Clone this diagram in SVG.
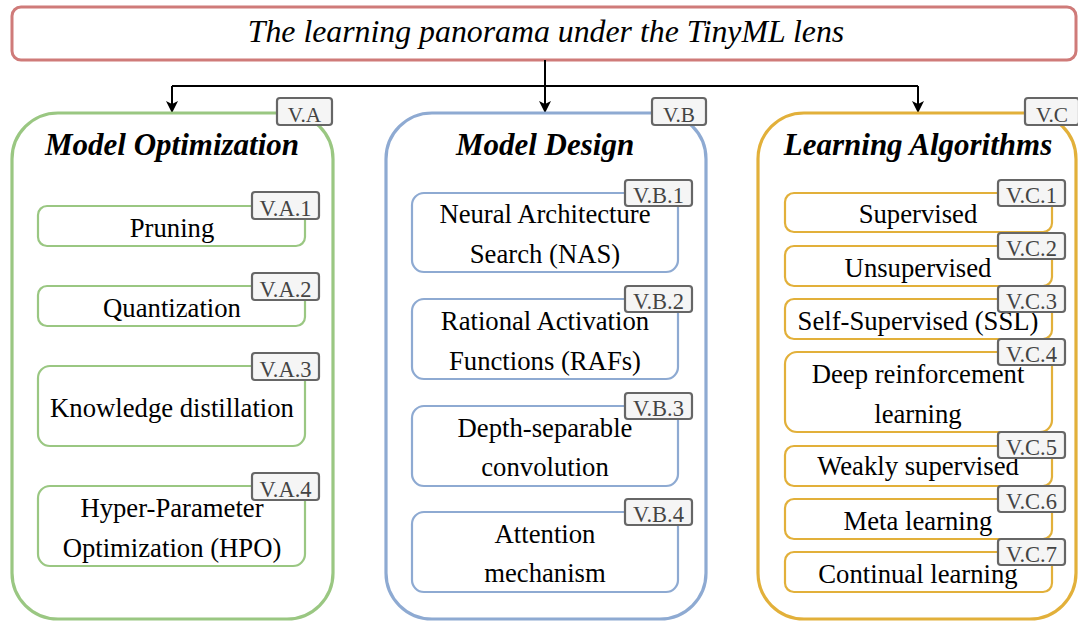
<svg xmlns="http://www.w3.org/2000/svg" width="1078" height="621" viewBox="0 0 1078 621">
  <defs>
    <marker id="arrow" viewBox="0 0 12 12" refX="11" refY="6" markerWidth="12" markerHeight="12" markerUnits="userSpaceOnUse" orient="auto">
      <path d="M0,0 L12,6 L0,12 L3,6 Z" fill="#000"/>
    </marker>
  </defs>
  <style>
    text { font-family: 'Liberation Serif', Tinos, 'Times New Roman', Times, 'DejaVu Serif', serif; fill: #000; text-anchor: middle; }
    .title { font-size: 31.8px; font-style: italic; }
    .gtitle { font-size: 31px; font-style: italic; font-weight: bold; }
    .item { font-size: 26.7px; }
    .tag rect { fill: #f5f5f5; stroke: #666; stroke-width: 2.2; }
    .tag text { font-size: 22.5px; fill: #444; }
    .tag.top text { font-size: 21.3px; }
    .green { fill: #fff; stroke: #9ac782; }
    .blue { fill: #fff; stroke: #8eaad2; }
    .gold { fill: #fff; stroke: #e2b03a; }
    .group { stroke-width: 3.2; }
    .sub { stroke-width: 2.2; }
    .conn { fill: none; stroke: #000; stroke-width: 2; }
  </style>

  <!-- header -->
  <g id="header">
    <rect x="12" y="7" width="1064" height="53" rx="9" fill="#fff" stroke="#cf7b79" stroke-width="3"/>
    <text class="title" x="546" y="42">The learning panorama under the TinyML lens</text>
  </g>

  <!-- connectors from header to the three columns -->
  <g id="connectors">
    <path class="conn" d="M545,60 V112"/>
    <path class="conn" d="M172,86 H918"/>
    <path class="conn" d="M172,86 V112" marker-end="url(#arrow)"/>
    <path class="conn" d="M545,86 V112" marker-end="url(#arrow)"/>
    <path class="conn" d="M918,86 V112" marker-end="url(#arrow)"/>
  </g>

  <!-- column A: model optimization -->
  <g id="model-optimization">
    <rect class="green group" x="12" y="113" width="321" height="506" rx="46"/>
    <text class="gtitle" x="172" y="155">Model Optimization</text>
    <g class="tag top"><rect x="277" y="98" width="55" height="27" rx="3"/><text x="304.5" y="122">V.A</text></g>
  </g>
  <g id="pruning">
    <rect class="green sub" x="38" y="206" width="267" height="40" rx="9"/>
    <text class="item" x="172" y="237">Pruning</text>
    <g class="tag"><rect x="252" y="192" width="67" height="27" rx="3"/><text x="285.5" y="216">V.A.1</text></g>
  </g>
  <g id="quantization">
    <rect class="green sub" x="38" y="286" width="267" height="40" rx="9"/>
    <text class="item" x="172" y="317">Quantization</text>
    <g class="tag"><rect x="252" y="273" width="67" height="27" rx="3"/><text x="285.5" y="297">V.A.2</text></g>
  </g>
  <g id="knowledge-distillation">
    <rect class="green sub" x="38" y="366" width="267" height="80" rx="12"/>
    <text class="item" x="172" y="417">Knowledge distillation</text>
    <g class="tag"><rect x="252" y="353" width="67" height="27" rx="3"/><text x="285.5" y="377">V.A.3</text></g>
  </g>
  <g id="hpo">
    <rect class="green sub" x="38" y="486" width="267" height="80" rx="12"/>
    <text class="item" x="172" y="517">Hyper-Parameter</text>
    <text class="item" x="172" y="557">Optimization (HPO)</text>
    <g class="tag"><rect x="252" y="473" width="67" height="27" rx="3"/><text x="285.5" y="497">V.A.4</text></g>
  </g>

  <!-- column B: model design -->
  <g id="model-design">
    <rect class="blue group" x="386" y="113" width="320" height="506" rx="46"/>
    <text class="gtitle" x="545" y="155">Model Design</text>
    <g class="tag top"><rect x="652" y="98" width="54" height="27" rx="3"/><text x="679" y="122">V.B</text></g>
  </g>
  <g id="nas">
    <rect class="blue sub" x="412" y="193" width="266" height="79" rx="12"/>
    <text class="item" x="545" y="223">Neural Architecture</text>
    <text class="item" x="545" y="263">Search (NAS)</text>
    <g class="tag"><rect x="625" y="180" width="67" height="26" rx="3"/><text x="658.5" y="203">V.B.1</text></g>
  </g>
  <g id="rafs">
    <rect class="blue sub" x="412" y="299" width="266" height="80" rx="12"/>
    <text class="item" x="545" y="330">Rational Activation</text>
    <text class="item" x="545" y="370">Functions (RAFs)</text>
    <g class="tag"><rect x="625" y="286" width="67" height="26" rx="3"/><text x="658.5" y="309">V.B.2</text></g>
  </g>
  <g id="depth-separable">
    <rect class="blue sub" x="412" y="406" width="266" height="80" rx="12"/>
    <text class="item" x="545" y="437">Depth-separable</text>
    <text class="item" x="545" y="476">convolution</text>
    <g class="tag"><rect x="625" y="393" width="67" height="26" rx="3"/><text x="658.5" y="416">V.B.3</text></g>
  </g>
  <g id="attention">
    <rect class="blue sub" x="412" y="512" width="266" height="80" rx="12"/>
    <text class="item" x="545" y="543">Attention</text>
    <text class="item" x="545" y="582">mechanism</text>
    <g class="tag"><rect x="625" y="499" width="67" height="26" rx="3"/><text x="658.5" y="522">V.B.4</text></g>
  </g>

  <!-- column C: learning algorithms -->
  <g id="learning-algorithms">
    <rect class="gold group" x="758" y="113" width="318" height="506" rx="46"/>
    <text class="gtitle" x="918" y="155">Learning Algorithms</text>
    <g class="tag top"><rect x="1025" y="98" width="54" height="27" rx="3"/><text x="1052" y="122">V.C</text></g>
  </g>
  <g id="supervised">
    <rect class="gold sub" x="785" y="193" width="267" height="39" rx="9"/>
    <text class="item" x="918" y="223">Supervised</text>
    <g class="tag"><rect x="998" y="180" width="67" height="26" rx="3"/><text x="1031.5" y="203">V.C.1</text></g>
  </g>
  <g id="unsupervised">
    <rect class="gold sub" x="785" y="246" width="267" height="40" rx="9"/>
    <text class="item" x="918" y="277">Unsupervised</text>
    <g class="tag"><rect x="998" y="233" width="67" height="26" rx="3"/><text x="1031.5" y="256">V.C.2</text></g>
  </g>
  <g id="self-supervised">
    <rect class="gold sub" x="785" y="299" width="267" height="40" rx="9"/>
    <text class="item" x="918" y="330">Self-Supervised (SSL)</text>
    <g class="tag"><rect x="998" y="286" width="67" height="26" rx="3"/><text x="1031.5" y="309">V.C.3</text></g>
  </g>
  <g id="deep-rl">
    <rect class="gold sub" x="785" y="352" width="267" height="80" rx="12"/>
    <text class="item" x="918" y="383">Deep reinforcement</text>
    <text class="item" x="918" y="423">learning</text>
    <g class="tag"><rect x="998" y="339" width="67" height="26" rx="3"/><text x="1031.5" y="362">V.C.4</text></g>
  </g>
  <g id="weakly-supervised">
    <rect class="gold sub" x="785" y="446" width="267" height="40" rx="9"/>
    <text class="item" x="918" y="475">Weakly supervised</text>
    <g class="tag"><rect x="998" y="432" width="67" height="26" rx="3"/><text x="1031.5" y="455">V.C.5</text></g>
  </g>
  <g id="meta-learning">
    <rect class="gold sub" x="785" y="499" width="267" height="40" rx="9"/>
    <text class="item" x="918" y="530">Meta learning</text>
    <g class="tag"><rect x="998" y="486" width="67" height="26" rx="3"/><text x="1031.5" y="509">V.C.6</text></g>
  </g>
  <g id="continual-learning">
    <rect class="gold sub" x="785" y="552" width="267" height="40" rx="9"/>
    <text class="item" x="918" y="583">Continual learning</text>
    <g class="tag"><rect x="998" y="539" width="67" height="26" rx="3"/><text x="1031.5" y="562">V.C.7</text></g>
  </g>
</svg>
